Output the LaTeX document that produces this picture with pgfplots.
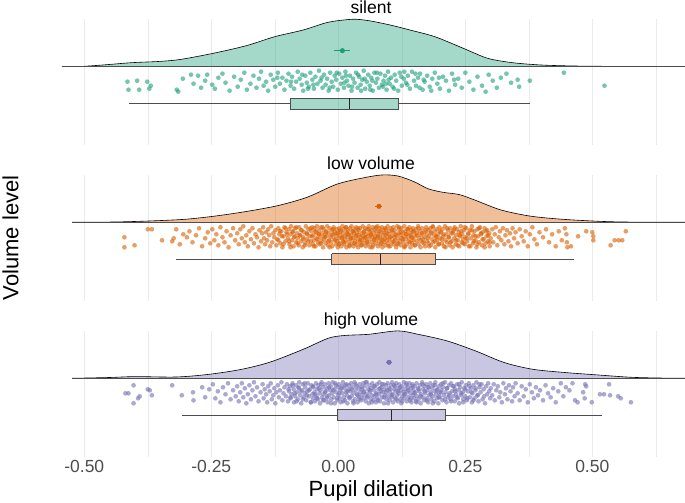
\documentclass[border=0pt]{standalone}
\usepackage{pgfplots}
\pgfplotsset{compat=1.18}
\usepackage{fontspec}
\setmainfont{Liberation Sans}
\definecolor{cs}{HTML}{1B9E77}
\definecolor{cl}{HTML}{D95F02}
\definecolor{ch}{HTML}{7570B3}
\definecolor{gridc}{HTML}{EBEBEB}
\definecolor{boxc}{HTML}{4D4D4D}
\definecolor{tickc}{HTML}{4D4D4D}
\pgfplotsset{rain/.style={
  scale only axis, width=628pt, height=126pt,
  xmin=-0.5537, xmax=0.6825, ymin=-78.3, ymax=47.7,
  axis line style={draw=none}, major tick length=0pt, minor tick length=0pt,
  ytick=\empty,
  xtick={-0.5,-0.25,0,0.25,0.5},
  minor xtick={-0.375,-0.125,0.125,0.375,0.625},
  xmajorgrids, xminorgrids,
  major grid style={draw=gridc, line width=0.8pt},
  minor grid style={draw=gridc, line width=0.5pt},
  xticklabels={}, clip=false, anchor=south west,
},
dens/.style={draw=black, line width=0.6pt, smooth, tension=0.5, fill=#1, fill opacity=0.4},
pts/.style={only marks, mark=*, mark size=2.35pt, color=#1, mark options={draw=#1, fill=#1, draw opacity=0, fill opacity=0.6}},
whisk/.style={draw=boxc, line width=0.6pt},
bx/.style={draw=boxc, line width=0.8pt, fill=#1, fill opacity=0.4},
med/.style={draw=black!85, line width=0.9pt},
}
\begin{document}
\begin{tikzpicture}
\path[use as bounding box] (0,0) rectangle (685pt,503pt);
% ---------------- silent ----------------
\begin{axis}[rain, at={(57pt,358pt)}]
\addplot[dens=cs] coordinates {(-0.544,0) (-0.504,0.3) (-0.456,2) (-0.407,4) (-0.351,5.3) (-0.31,7.3) (-0.246,13.4) (-0.181,21) (-0.125,30) (-0.069,36.7) (-0.020,44.4) (0.028,47.4) (0.060,46) (0.101,41.8) (0.141,36.7) (0.19,30) (0.246,18.4) (0.294,8.4) (0.343,4) (0.399,1.7) (0.464,0.7) (0.544,0.3) (0.6825,0)};
\addplot[draw=boxc, line width=0.7pt] coordinates {(-0.544,0) (0.6825,0)};
\addplot[only marks, mark=*, mark size=2.3pt, color=cs, error bars/.cd, x dir=both, x explicit, error mark=none, error bar style={line width=0.8pt, color=cs}] coordinates {(0.008,16) +- (0.016,0)};
\addplot[pts=cs] table {
x y
-0.415 -15
-0.413 -23
-0.396 -14
-0.392 -23
-0.376 -15
-0.372 -22
-0.369 -19
-0.318 -23
-0.315 -25
-0.306 -12
-0.290 -8
-0.285 -17
-0.276 -9
-0.270 -21
-0.262 -14
-0.258 -8
-0.248 -18
-0.243 -22
-0.236 -11
-0.228 -7
-0.222 -16
-0.214 -24
-0.205 -10
-0.198 -20
-0.192 -13
-0.185 -6
-0.180 -23
-0.173 -17
-0.167 -9
-0.161 -21
-0.156 -12
-0.152 -5
-0.147 -19
-0.142 -15
-0.138 -24
-0.133 -8
-0.128 -13
-0.124 -20
-0.120 -11
-0.119 -6
-0.115 -17
-0.110 -11
-0.106 -23
-0.102 -14
-0.098 -7
-0.094 -19
-0.093 -15
-0.091 -10
-0.087 -22
-0.083 -15
-0.080 -5
-0.076 -12
-0.072 -18
-0.071 -8
-0.069 -24
-0.065 -9
-0.062 -16
-0.060 -22
-0.058 -20
-0.055 -6
-0.051 -13
-0.049 -18
-0.048 -22
-0.045 -10
-0.041 -17
-0.038 -4
-0.035 -14
-0.033 -11
-0.031 -21
-0.028 -8
-0.025 -18
-0.022 -12
-0.019 -24
-0.017 -21
-0.016 -6
-0.013 -15
-0.010 -20
-0.007 -9
-0.004 -13
-0.003 -6
-0.001 -23
0.002 -7
0.005 -17
0.008 -11
0.011 -21
0.012 -16
0.014 -5
0.015 -9
0.017 -14
0.020 -19
0.023 -9
0.026 -24
0.027 -20
0.029 -12
0.032 -16
0.035 -6
0.038 -21
0.039 -8
0.041 -10
0.044 -18
0.045 -24
0.047 -13
0.050 -4
0.052 -12
0.053 -22
0.056 -15
0.059 -8
0.062 -19
0.063 -23
0.065 -11
0.067 -14
0.068 -24
0.071 -6
0.074 -16
0.076 -6
0.077 -12
0.080 -21
0.083 -7
0.086 -18
0.088 -20
0.089 -14
0.092 -9
0.094 -17
0.095 -23
0.098 -5
0.099 -13
0.101 -17
0.104 -11
0.107 -20
0.110 -22
0.111 -8
0.114 -14
0.118 -24
0.121 -6
0.124 -10
0.125 -19
0.129 -12
0.130 -5
0.133 -16
0.136 -18
0.137 -9
0.141 -22
0.145 -5
0.149 -14
0.152 -7
0.153 -19
0.157 -11
0.160 -21
0.161 -7
0.166 -23
0.168 -13
0.170 -15
0.175 -9
0.180 -20
0.183 -24
0.185 -12
0.190 -6
0.195 -17
0.198 -11
0.200 -22
0.206 -10
0.212 -14
0.218 -24
0.224 -7
0.228 -13
0.230 -18
0.236 -12
0.243 -21
0.250 -6
0.258 -15
0.266 -23
0.274 -10
0.283 -19
0.290 -25
0.296 -8
0.304 -14
0.312 -21
0.320 -11
0.331 -7
0.340 -16
0.353 -13
0.356 -20
0.377 -14
0.444 -6
0.524 -19
};
\addplot[whisk] coordinates {(-0.411,-37) (-0.095,-37)};
\addplot[whisk] coordinates {(0.119,-37) (0.377,-37)};
\addplot[bx=cs] coordinates {(-0.095,-31.6) (0.119,-31.6) (0.119,-42.3) (-0.095,-42.3) (-0.095,-31.6)};
\addplot[med] coordinates {(0.021,-31.6) (0.021,-42.3)};
\end{axis}
% ---------------- low volume ----------------
\begin{axis}[rain, at={(57pt,202.4pt)}]
\addplot[dens=cl] coordinates {(-0.524,0) (-0.44,0.3) (-0.367,1.4) (-0.302,3) (-0.246,6) (-0.181,10.8) (-0.117,16.9) (-0.06,25.3) (-0.004,37.9) (0.044,43.9) (0.085,47.3) (0.117,46.3) (0.149,40.6) (0.177,33.5) (0.206,30) (0.238,27.7) (0.27,22) (0.319,12.5) (0.375,6.4) (0.431,3.4) (0.496,1.4) (0.56,0.3) (0.6825,0)};
\addplot[draw=boxc, line width=0.7pt] coordinates {(-0.524,0) (0.6825,0)};
\addplot[only marks, mark=*, mark size=2.3pt, color=cl, error bars/.cd, x dir=both, x explicit, error mark=none, error bar style={line width=0.8pt, color=cl}] coordinates {(0.080,16) +- (0.007,0)};
\addplot[pts=cl] table {
x y
-0.421 -15
-0.421 -25
-0.401 -23
-0.375 -7
-0.367 -7
-0.347 -18
-0.327 -19
-0.324 -16
-0.319 -7
-0.312 -22
-0.305 -12
-0.298 -15
-0.293 -9
-0.287 -20
-0.280 -13
-0.274 -6
-0.268 -24
-0.262 -16
-0.257 -10
-0.252 -21
-0.248 -7
-0.244 -18
-0.240 -12
-0.236 -23
-0.232 -5
-0.228 -15
-0.224 -20
-0.220 -9
-0.216 -25
-0.212 -13
-0.207 -6
-0.203 -18
-0.199 -11
-0.196 -22
-0.193 -7
-0.190 -16
-0.187 -4
-0.184 -20
-0.181 -13
-0.178 -24
-0.175 -9
-0.172 -17
-0.169 -6
-0.166 -21
-0.163 -12
-0.160 -15
-0.157 -25
-0.155 -8
-0.152 -19
-0.150 -11
-0.148 -5
-0.146 -16
-0.144 -22
-0.142 -10
-0.140 -18
-0.138 -7
-0.136 -13
-0.134 -24
-0.132 -4
-0.130 -20
-0.128 -11
-0.126 -15
-0.124 -8
-0.122 -23
-0.120 -17
-0.118 -6
-0.116 -12
-0.114 -21
-0.112 -9
-0.110 -25
-0.108 -14
-0.106 -5
-0.104 -19
-0.102 -10
-0.099 -16
-0.097 -7
-0.096 -22
-0.094 -12
-0.093 -4
-0.091 -18
-0.089 -9
-0.088 -24
-0.086 -14
-0.085 -6
-0.083 -20
-0.081 -11
-0.080 -16
-0.078 -23
-0.077 -5
-0.075 -13
-0.073 -19
-0.072 -8
-0.070 -25
-0.069 -15
-0.067 -10
-0.065 -21
-0.064 -4
-0.062 -17
-0.061 -12
-0.059 -7
-0.057 -23
-0.056 -14
-0.054 -19
-0.053 -9
-0.051 -5
-0.050 -22
-0.049 -13
-0.048 -18
-0.047 -6
-0.045 -24
-0.044 -10
-0.043 -16
-0.042 -4
-0.040 -20
-0.039 -12
-0.038 -8
-0.037 -22
-0.035 -15
-0.034 -5
-0.033 -19
-0.032 -11
-0.030 -25
-0.029 -7
-0.028 -17
-0.027 -13
-0.025 -21
-0.024 -9
-0.023 -14
-0.022 -4
-0.020 -23
-0.019 -11
-0.018 -18
-0.017 -6
-0.015 -15
-0.014 -20
-0.013 -8
-0.012 -24
-0.010 -12
-0.009 -5
-0.008 -17
-0.007 -10
-0.005 -22
-0.004 -14
-0.003 -7
-0.002 -19
-0.001 -25
0.000 -11
0.001 -16
0.002 -6
0.003 -21
0.004 -13
0.005 -9
0.006 -24
0.007 -16
0.008 -4
0.009 -19
0.010 -11
0.011 -7
0.012 -22
0.013 -14
0.014 -18
0.015 -5
0.016 -25
0.017 -10
0.018 -15
0.019 -8
0.020 -20
0.021 -12
0.022 -23
0.023 -6
0.024 -17
0.025 -13
0.026 -4
0.027 -21
0.028 -9
0.029 -16
0.030 -24
0.031 -11
0.032 -7
0.033 -19
0.034 -14
0.035 -5
0.036 -22
0.037 -10
0.038 -17
0.039 -25
0.040 -8
0.041 -13
0.042 -20
0.043 -6
0.044 -15
0.045 -23
0.046 -11
0.047 -18
0.048 -4
0.049 -14
0.050 -21
0.051 -9
0.052 -16
0.053 -6
0.054 -24
0.055 -12
0.056 -19
0.057 -7
0.058 -14
0.059 -22
0.060 -4
0.061 -17
0.062 -10
0.063 -25
0.064 -13
0.065 -8
0.066 -20
0.067 -15
0.068 -5
0.069 -23
0.070 -11
0.071 -18
0.072 -7
0.073 -14
0.074 -21
0.075 -9
0.076 -16
0.077 -4
0.078 -24
0.079 -12
0.080 -19
0.081 -6
0.082 -15
0.083 -22
0.084 -10
0.085 -17
0.086 -5
0.087 -25
0.088 -13
0.089 -8
0.090 -20
0.091 -11
0.092 -16
0.093 -23
0.094 -7
0.095 -14
0.096 -18
0.097 -4
0.098 -21
0.099 -12
0.100 -9
0.101 -17
0.102 -24
0.103 -6
0.105 -14
0.106 -20
0.107 -10
0.108 -5
0.109 -22
0.110 -15
0.111 -8
0.112 -18
0.113 -12
0.114 -25
0.116 -4
0.117 -16
0.118 -21
0.119 -11
0.120 -7
0.121 -19
0.122 -13
0.123 -23
0.124 -6
0.125 -16
0.127 -10
0.128 -20
0.129 -14
0.130 -4
0.131 -24
0.132 -9
0.133 -17
0.134 -12
0.135 -22
0.136 -7
0.138 -15
0.139 -19
0.140 -5
0.141 -11
0.142 -25
0.143 -13
0.144 -8
0.145 -21
0.146 -16
0.147 -6
0.148 -18
0.149 -10
0.150 -23
0.151 -14
0.153 -7
0.154 -19
0.155 -11
0.157 -4
0.158 -22
0.159 -16
0.161 -9
0.162 -25
0.163 -13
0.165 -6
0.166 -20
0.167 -17
0.169 -10
0.170 -15
0.171 -24
0.173 -5
0.174 -12
0.175 -19
0.177 -8
0.178 -21
0.179 -14
0.181 -6
0.182 -23
0.183 -11
0.185 -17
0.186 -4
0.187 -20
0.189 -13
0.190 -9
0.191 -25
0.193 -15
0.194 -7
0.195 -18
0.197 -12
0.198 -22
0.199 -5
0.201 -16
0.202 -10
0.204 -21
0.205 -7
0.207 -14
0.208 -24
0.210 -4
0.211 -18
0.213 -12
0.214 -20
0.216 -8
0.217 -15
0.219 -23
0.220 -6
0.222 -11
0.223 -19
0.225 -25
0.226 -9
0.228 -16
0.229 -5
0.231 -22
0.232 -13
0.234 -7
0.235 -18
0.237 -10
0.238 -24
0.240 -14
0.241 -4
0.243 -20
0.244 -12
0.246 -17
0.247 -8
0.249 -22
0.250 -15
0.252 -6
0.254 -19
0.256 -11
0.257 -24
0.259 -8
0.261 -16
0.263 -4
0.265 -21
0.266 -13
0.268 -9
0.270 -18
0.272 -25
0.274 -7
0.275 -14
0.277 -20
0.279 -5
0.281 -12
0.283 -23
0.284 -10
0.286 -17
0.288 -6
0.290 -21
0.292 -14
0.293 -8
0.295 -19
0.297 -11
0.298 -24
0.300 -16
0.303 -7
0.305 -20
0.308 -12
0.310 -5
0.313 -23
0.316 -15
0.318 -9
0.321 -18
0.324 -6
0.327 -22
0.329 -13
0.332 -8
0.335 -19
0.338 -11
0.340 -24
0.343 -6
0.346 -16
0.349 -10
0.353 -21
0.357 -7
0.361 -14
0.365 -19
0.369 -9
0.373 -24
0.377 -12
0.382 -5
0.386 -17
0.391 -22
0.396 -10
0.403 -15
0.409 -7
0.415 -20
0.421 -12
0.428 -24
0.434 -9
0.440 -18
0.446 -6
0.449 -12
0.450 -20
0.451 -25
0.458 -24
0.472 -14
0.488 -9
0.500 -10
0.502 -14
0.502 -18
0.536 -23
0.544 -18
0.552 -18
0.559 -18
0.566 -9
-0.118 -18
-0.115 -9
-0.111 -14
-0.108 -22
-0.104 -6
-0.101 -12
-0.097 -19
-0.094 -25
-0.090 -10
-0.087 -15
-0.083 -5
-0.080 -21
-0.076 -13
-0.073 -8
-0.069 -17
-0.066 -23
-0.062 -11
-0.059 -19
-0.055 -6
-0.052 -14
-0.048 -24
-0.045 -9
-0.041 -17
-0.038 -12
-0.034 -21
-0.031 -5
-0.027 -15
-0.024 -10
-0.020 -19
-0.017 -25
-0.013 -13
-0.010 -7
-0.006 -18
-0.003 -11
0.001 -22
0.004 -8
0.008 -15
0.011 -20
0.015 -5
0.018 -12
0.022 -24
0.025 -16
0.029 -9
0.032 -21
0.036 -13
0.039 -6
0.043 -18
0.046 -23
0.050 -10
0.053 -15
0.057 -20
0.060 -7
0.064 -12
0.067 -25
0.071 -17
0.074 -5
0.078 -14
0.081 -9
0.085 -21
0.088 -18
0.092 -6
0.095 -11
0.099 -24
0.102 -15
0.106 -8
0.109 -19
0.113 -13
0.116 -22
0.120 -5
0.123 -10
0.127 -17
0.130 -25
0.134 -12
0.137 -7
0.141 -20
0.144 -15
0.148 -9
0.151 -23
0.155 -13
0.158 -6
0.162 -18
0.165 -11
0.169 -21
0.172 -8
0.176 -16
0.179 -24
0.183 -10
0.186 -5
0.190 -19
0.193 -14
0.197 -22
0.200 -9
0.204 -17
0.207 -12
0.211 -25
0.214 -6
0.218 -15
0.221 -20
0.225 -11
0.228 -7
0.232 -18
0.235 -23
0.239 -13
0.242 -9
0.246 -21
0.249 -5
0.253 -16
0.256 -12
0.260 -24
0.263 -8
0.267 -19
0.270 -14
0.274 -22
0.277 -6
0.281 -11
0.284 -17
0.288 -25
0.291 -9
0.295 -13
0.298 -20
};
\addplot[whisk] coordinates {(-0.319,-37) (-0.013,-37)};
\addplot[whisk] coordinates {(0.192,-37) (0.464,-37)};
\addplot[bx=cl] coordinates {(-0.013,-31.6) (0.192,-31.6) (0.192,-42.3) (-0.013,-42.3) (-0.013,-31.6)};
\addplot[med] coordinates {(0.083,-31.6) (0.083,-42.3)};
\end{axis}
% ---------------- high volume ----------------
\begin{axis}[rain, at={(57pt,46.4pt)},
  xticklabels={-0.50,-0.25,0.00,0.25,0.50},
  xticklabel style={font=\fontsize{17.5}{20}\selectfont, text=tickc, yshift=-0.5pt}]
\addplot[dens=ch] coordinates {(-0.524,0) (-0.45,0.8) (-0.399,1.7) (-0.319,1.3) (-0.254,4) (-0.19,9) (-0.133,16.4) (-0.069,29) (-0.02,40) (0.012,42.8) (0.06,44) (0.117,47.4) (0.157,44) (0.214,37.4) (0.27,27.4) (0.327,15.7) (0.383,9) (0.448,5.7) (0.512,3.3) (0.577,1) (0.641,0.2) (0.6825,0)};
\addplot[draw=boxc, line width=0.7pt] coordinates {(-0.524,0) (0.6825,0)};
\addplot[only marks, mark=*, mark size=2.3pt, color=ch, error bars/.cd, x dir=both, x explicit, error mark=none, error bar style={line width=0.8pt, color=ch}] coordinates {(0.100,16) +- (0.006,0)};
\addplot[pts=ch] table {
x y
-0.419 -15
-0.413 -15
-0.403 -7
-0.403 -25
-0.394 -20
-0.391 -18
-0.375 -11
-0.371 -12
-0.367 -17
-0.327 -7
-0.308 -17
-0.286 -14
-0.285 -22
-0.268 -9
-0.262 -19
-0.254 -11
-0.247 -6
-0.242 -20
-0.237 -13
-0.232 -24
-0.227 -9
-0.222 -16
-0.217 -5
-0.212 -21
-0.207 -12
-0.202 -18
-0.199 -8
-0.196 -23
-0.193 -14
-0.190 -5
-0.187 -19
-0.184 -10
-0.181 -25
-0.178 -16
-0.175 -7
-0.172 -21
-0.169 -12
-0.166 -4
-0.163 -18
-0.160 -9
-0.157 -23
-0.153 -14
-0.149 -6
-0.147 -20
-0.145 -11
-0.142 -16
-0.140 -24
-0.138 -8
-0.135 -13
-0.133 -5
-0.131 -21
-0.128 -17
-0.126 -10
-0.124 -25
-0.122 -14
-0.119 -7
-0.117 -19
-0.115 -12
-0.112 -4
-0.110 -22
-0.108 -15
-0.106 -9
-0.103 -18
-0.101 -6
-0.099 -23
-0.097 -13
-0.095 -8
-0.094 -20
-0.092 -16
-0.090 -5
-0.088 -11
-0.087 -24
-0.085 -18
-0.083 -7
-0.082 -14
-0.080 -21
-0.078 -10
-0.077 -4
-0.075 -17
-0.073 -25
-0.071 -12
-0.070 -6
-0.068 -19
-0.066 -15
-0.065 -9
-0.063 -22
-0.061 -13
-0.060 -5
-0.058 -18
-0.056 -11
-0.054 -24
-0.053 -7
-0.051 -16
-0.050 -20
-0.049 -9
-0.047 -14
-0.046 -23
-0.044 -5
-0.043 -18
-0.042 -11
-0.040 -21
-0.039 -7
-0.037 -15
-0.036 -25
-0.035 -12
-0.033 -4
-0.032 -19
-0.030 -9
-0.029 -16
-0.028 -22
-0.026 -6
-0.025 -13
-0.023 -20
-0.022 -10
-0.021 -24
-0.019 -5
-0.018 -17
-0.016 -12
-0.015 -8
-0.014 -21
-0.012 -15
-0.011 -4
-0.009 -19
-0.008 -11
-0.007 -25
-0.005 -7
-0.004 -14
-0.002 -22
-0.001 -9
0.000 -17
0.001 -6
0.003 -20
0.004 -12
0.005 -24
0.007 -8
0.008 -15
0.009 -4
0.011 -19
0.012 -10
0.013 -22
0.015 -14
0.016 -6
0.017 -17
0.018 -25
0.020 -11
0.021 -7
0.022 -20
0.024 -13
0.025 -5
0.026 -18
0.028 -9
0.029 -23
0.030 -15
0.032 -4
0.033 -21
0.034 -12
0.036 -8
0.037 -16
0.038 -24
0.040 -10
0.041 -19
0.042 -6
0.043 -14
0.045 -22
0.046 -11
0.047 -17
0.049 -5
0.050 -20
0.051 -13
0.052 -8
0.054 -23
0.055 -16
0.056 -4
0.057 -19
0.059 -11
0.060 -25
0.061 -7
0.062 -14
0.064 -21
0.065 -10
0.066 -17
0.067 -5
0.069 -22
0.070 -12
0.071 -18
0.072 -8
0.074 -24
0.075 -15
0.076 -6
0.077 -20
0.079 -11
0.080 -16
0.081 -4
0.082 -23
0.084 -13
0.085 -9
0.086 -19
0.087 -14
0.089 -6
0.090 -25
0.091 -11
0.092 -17
0.094 -7
0.095 -21
0.096 -12
0.097 -5
0.099 -18
0.100 -10
0.101 -22
0.102 -14
0.104 -7
0.105 -19
0.106 -4
0.107 -16
0.108 -24
0.110 -11
0.111 -8
0.112 -20
0.113 -13
0.114 -5
0.116 -17
0.117 -23
0.118 -10
0.119 -15
0.120 -6
0.122 -21
0.123 -12
0.124 -25
0.125 -8
0.126 -18
0.128 -14
0.129 -4
0.130 -20
0.131 -11
0.132 -16
0.134 -7
0.135 -23
0.136 -13
0.137 -9
0.138 -19
0.140 -5
0.141 -22
0.142 -15
0.143 -10
0.144 -24
0.146 -6
0.147 -17
0.148 -12
0.149 -20
0.150 -8
0.151 -14
0.153 -23
0.154 -5
0.155 -18
0.157 -10
0.158 -21
0.159 -13
0.161 -7
0.162 -25
0.163 -16
0.165 -4
0.166 -19
0.167 -11
0.169 -22
0.170 -8
0.171 -15
0.173 -6
0.174 -20
0.175 -12
0.177 -24
0.178 -9
0.179 -17
0.181 -5
0.182 -14
0.183 -21
0.185 -10
0.186 -18
0.187 -7
0.189 -23
0.190 -13
0.191 -4
0.193 -16
0.194 -20
0.195 -11
0.197 -25
0.198 -8
0.199 -15
0.200 -19
0.202 -6
0.203 -12
0.205 -22
0.206 -9
0.208 -17
0.210 -4
0.211 -14
0.213 -24
0.214 -10
0.216 -19
0.218 -7
0.219 -15
0.221 -21
0.222 -5
0.224 -13
0.226 -18
0.227 -8
0.229 -23
0.230 -11
0.232 -16
0.234 -6
0.235 -20
0.237 -12
0.238 -25
0.240 -9
0.242 -17
0.243 -4
0.245 -14
0.246 -21
0.248 -10
0.250 -18
0.251 -7
0.253 -22
0.255 -13
0.257 -5
0.259 -19
0.261 -10
0.263 -24
0.264 -15
0.266 -7
0.268 -20
0.270 -12
0.272 -4
0.274 -17
0.276 -23
0.278 -9
0.280 -14
0.282 -6
0.284 -21
0.286 -11
0.287 -18
0.289 -25
0.291 -8
0.293 -16
0.295 -5
0.297 -13
0.299 -20
0.300 -10
0.303 -17
0.306 -6
0.308 -22
0.311 -12
0.314 -8
0.317 -19
0.319 -14
0.322 -24
0.325 -5
0.328 -16
0.330 -10
0.333 -21
0.336 -7
0.339 -13
0.342 -23
0.344 -9
0.347 -18
0.349 -5
0.353 -15
0.357 -22
0.361 -8
0.365 -18
0.369 -11
0.373 -24
0.377 -6
0.381 -14
0.385 -20
0.389 -9
0.393 -17
0.397 -12
0.403 -22
0.408 -7
0.413 -15
0.418 -19
0.423 -10
0.428 -24
0.433 -13
0.438 -5
0.443 -18
0.448 -9
0.455 -12
0.461 -5
0.466 -22
0.471 -24
0.482 -14
0.485 -20
0.486 -6
0.488 -8
0.499 -24
0.515 -16
0.523 -16
0.533 -6
0.535 -17
0.551 -18
0.556 -20
0.576 -24
-0.098 -11
-0.094 -19
-0.090 -7
-0.086 -15
-0.082 -23
-0.078 -9
-0.074 -13
-0.070 -21
-0.066 -5
-0.062 -17
-0.058 -12
-0.054 -24
-0.050 -8
-0.046 -16
-0.042 -20
-0.038 -10
-0.034 -6
-0.030 -22
-0.026 -14
-0.022 -18
-0.018 -9
-0.014 -25
-0.010 -12
-0.006 -5
-0.002 -20
0.002 -15
0.006 -10
0.010 -23
0.014 -7
0.018 -13
0.022 -19
0.026 -11
0.030 -25
0.034 -6
0.038 -17
0.042 -21
0.046 -9
0.050 -14
0.054 -4
0.058 -18
0.062 -12
0.066 -24
0.070 -8
0.074 -16
0.078 -22
0.082 -10
0.086 -6
0.090 -19
0.094 -14
0.098 -25
0.102 -11
0.106 -17
0.110 -7
0.114 -21
0.118 -13
0.122 -9
0.126 -23
0.130 -16
0.134 -5
0.138 -12
0.142 -20
0.146 -8
0.150 -15
0.154 -24
0.158 -11
0.162 -18
0.166 -6
0.170 -13
0.174 -22
0.178 -9
0.182 -16
0.186 -25
0.190 -7
0.194 -12
0.198 -19
0.202 -14
0.206 -5
0.210 -21
0.214 -10
0.218 -17
0.222 -23
0.226 -8
0.230 -13
0.234 -19
0.238 -6
0.242 -15
0.246 -24
0.250 -11
0.254 -20
0.258 -8
0.262 -14
0.266 -22
0.270 -10
0.274 -17
0.278 -6
};
\addplot[whisk] coordinates {(-0.308,-37) (-0.002,-37)};
\addplot[whisk] coordinates {(0.210,-37) (0.520,-37)};
\addplot[bx=ch] coordinates {(-0.002,-31.6) (0.210,-31.6) (0.210,-42.3) (-0.002,-42.3) (-0.002,-31.6)};
\addplot[med] coordinates {(0.105,-31.6) (0.105,-42.3)};
\end{axis}
% ---------------- texts ----------------
\node[anchor=base, font=\fontsize{17.5}{20}\selectfont, inner sep=0pt] at (371pt,489pt) {silent};
\node[anchor=base, font=\fontsize{17.5}{20}\selectfont, inner sep=0pt] at (371pt,333.4pt) {low volume};
\node[anchor=base, font=\fontsize{17.5}{20}\selectfont, inner sep=0pt] at (371pt,177.4pt) {high volume};
\node[anchor=base, font=\fontsize{22}{26}\selectfont, inner sep=0pt] at (371pt,6.5pt) {Pupil dilation};
\node[anchor=base, rotate=90, font=\fontsize{22}{26}\selectfont, inner sep=0pt] at (18.3pt,265.2pt) {Volume level};
\end{tikzpicture}
\end{document}
